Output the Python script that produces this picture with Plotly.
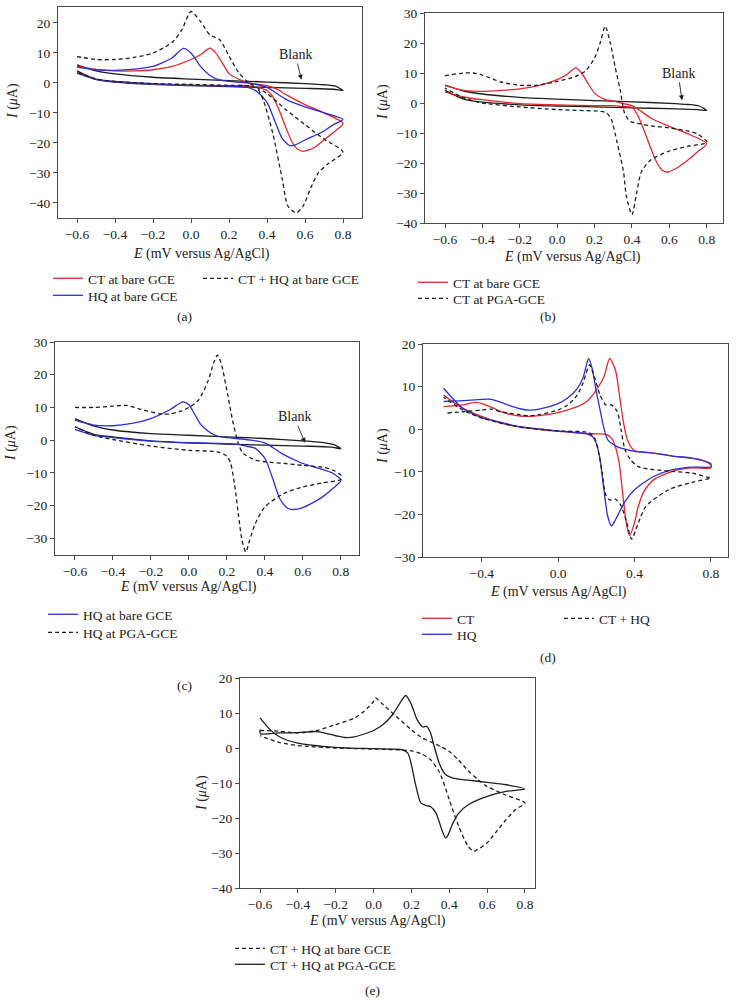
import plotly.graph_objects as go

# ---------------- DATA ----------------
# Panel (a)
a_ct_E = [-0.6, -0.5, -0.4, -0.3, -0.2, -0.1, 0.0, 0.05, 0.1, 0.13, 0.17, 0.2, 0.25, 0.3, 0.4, 0.45, 0.5, 0.6, 0.7, 0.8,
          0.75, 0.7, 0.65, 0.59, 0.56, 0.53, 0.5, 0.47, 0.43, 0.4, 0.35, 0.3, 0.2, 0.0, -0.2, -0.4, -0.5, -0.6]
a_ct_I = [5.5, 4.5, 4.0, 4.0, 4.4, 5.5, 7.8, 9.4, 11.6, 10.0, 6.1, 3.1, 1.3, 0.0, -0.9, -2.0, -3.9, -7.2, -10.0, -13.5,
          -16.5, -19.0, -21.5, -22.8, -22.0, -19.5, -15.0, -10.0, -4.5, -2.5, -1.5, -0.9, -0.9, -0.7, -0.3, 0.5, 1.3, 3.5]
a_hq_E = [-0.6, -0.5, -0.4, -0.3, -0.2, -0.1, -0.04, 0.0, 0.05, 0.1, 0.15, 0.2, 0.3, 0.4, 0.5, 0.6, 0.7, 0.8,
          0.75, 0.7, 0.6, 0.55, 0.52, 0.48, 0.44, 0.4, 0.35, 0.3, 0.2, 0.0, -0.2, -0.4, -0.5, -0.6]
a_hq_I = [5.3, 4.4, 4.2, 4.6, 5.5, 8.3, 11.5, 10.0, 5.5, 2.5, 1.0, 0.5, 0.0, -1.5, -5.5, -8.0, -10.0, -12.2,
          -13.9, -16.0, -19.0, -20.6, -20.9, -18.5, -12.5, -6.5, -3.0, -1.5, -1.1, -0.8, -0.3, 0.4, 1.2, 3.3]
a_mix_E = [-0.6, -0.5, -0.4, -0.3, -0.2, -0.1, -0.05, 0.0, 0.05, 0.1, 0.15, 0.2, 0.25, 0.3, 0.4, 0.5, 0.6, 0.7, 0.8,
           0.72, 0.67, 0.63, 0.59, 0.554, 0.51, 0.48, 0.43, 0.38, 0.35, 0.3, 0.2, 0.0, -0.2, -0.4, -0.5, -0.6]
a_mix_I = [8.8, 7.8, 7.8, 8.5, 10.0, 13.5, 17.5, 23.8, 20.5, 16.0, 14.5, 9.0, 3.5, 0.3, -3.5, -8.9, -13.9, -18.7, -23.0,
           -27.0, -30.0, -35.0, -41.0, -43.3, -41.0, -32.0, -16.7, -5.6, -2.0, -1.0, -0.8, -0.5, -0.2, 0.5, 1.3, 3.5]
a_blank_E = [-0.6, -0.5, -0.4, -0.2, 0.0, 0.2, 0.4, 0.6, 0.7, 0.76, 0.8,
             0.75, 0.6, 0.4, 0.2, 0.0, -0.2, -0.4, -0.5, -0.6]
a_blank_I = [6.0, 4.0, 3.0, 1.9, 1.3, 0.8, 0.3, -0.2, -0.6, -1.1, -2.5,
             -2.1, -1.8, -1.5, -1.2, -0.9, -0.5, 0.3, 1.2, 4.0]

# Panel (b)
b_ct_E = [-0.6, -0.5, -0.4, -0.3, -0.2, -0.1, 0.0, 0.05, 0.1, 0.13, 0.17, 0.2, 0.25, 0.3, 0.4, 0.45, 0.5, 0.6, 0.7, 0.8,
          0.75, 0.7, 0.63, 0.59, 0.56, 0.53, 0.5, 0.47, 0.43, 0.4, 0.35, 0.3, 0.2, 0.0, -0.2, -0.4, -0.5, -0.6]
b_ct_I = [5.8, 4.2, 3.9, 4.2, 4.7, 5.8, 7.8, 9.4, 11.7, 10.0, 6.0, 3.3, 1.3, 0.6, -0.9, -2.8, -5.0, -7.8, -10.3, -13.6,
          -16.3, -19.0, -22.0, -23.0, -22.3, -19.5, -15.0, -10.0, -4.0, -1.5, -1.2, -0.9, -0.9, -0.6, -0.2, 1.1, 2.0, 3.6]
b_pga_E = [-0.6, -0.5, -0.45, -0.4, -0.3, -0.2, -0.1, 0.0, 0.1, 0.15, 0.2, 0.23, 0.257, 0.284, 0.31, 0.337, 0.36, 0.39, 0.45, 0.5, 0.6, 0.7, 0.75, 0.8,
           0.8, 0.7, 0.6, 0.5, 0.45, 0.425, 0.4, 0.37, 0.355, 0.32, 0.29, 0.265, 0.23, 0.0, -0.2, -0.4, -0.5, -0.6]
b_pga_I = [9.1, 10.0, 10.0, 9.3, 7.0, 5.9, 6.0, 7.2, 8.9, 10.6, 15.0, 20.0, 25.6, 20.0, 12.0, 4.4, -3.3, -6.1, -7.0, -7.6, -8.3, -9.4, -10.3, -12.8,
           -13.3, -14.4, -16.0, -19.0, -23.0, -30.0, -37.2, -31.0, -23.0, -13.0, -5.5, -3.3, -2.8, -2.2, -1.3, 0.0, 1.7, 5.0]
b_blank_E = [-0.6, -0.5, -0.4, -0.2, 0.0, 0.2, 0.4, 0.6, 0.7, 0.76, 0.8,
             0.75, 0.6, 0.4, 0.2, 0.0, -0.2, -0.4, -0.5, -0.6]
b_blank_I = [6.0, 4.0, 3.0, 1.9, 1.3, 0.8, 0.4, -0.1, -0.5, -1.0, -2.5,
             -2.2, -1.9, -1.6, -1.3, -1.0, -0.6, 0.3, 1.3, 4.2]

# Panel (c)
c_hq_E = [-0.6, -0.5, -0.4, -0.3, -0.2, -0.1, -0.05, -0.03, 0.0, 0.03, 0.06, 0.1, 0.15, 0.2, 0.3, 0.4, 0.49, 0.59, 0.69, 0.76, 0.8,
          0.8, 0.7, 0.6, 0.55, 0.52, 0.48, 0.44, 0.4, 0.35, 0.3, 0.25, 0.0, -0.2, -0.4, -0.5, -0.6]
c_hq_I = [6.1, 4.6, 4.4, 5.1, 6.6, 9.3, 11.2, 11.7, 10.8, 8.0, 5.0, 2.8, 1.2, 0.8, 0.2, -0.8, -4.1, -6.9, -8.7, -10.2, -12.0,
          -12.5, -17.5, -20.6, -21.2, -20.8, -18.0, -11.5, -5.5, -2.5, -1.8, -1.2, -0.8, -0.3, 0.8, 1.5, 3.3]
c_pga_E = [-0.6, -0.5, -0.4, -0.33, -0.25, -0.15, -0.1, -0.05, 0.0, 0.05, 0.1, 0.13, 0.15, 0.17, 0.2, 0.23, 0.26, 0.28, 0.3, 0.35, 0.4, 0.5, 0.6, 0.7, 0.76, 0.8,
           0.8, 0.7, 0.6, 0.5, 0.4, 0.35, 0.32, 0.3, 0.28, 0.26, 0.24, 0.22, 0.2, 0.15, 0.0, -0.2, -0.4, -0.5, -0.6]
c_pga_I = [10.0, 10.0, 10.4, 10.6, 9.4, 8.0, 8.0, 8.7, 10.0, 12.2, 17.9, 23.5, 26.0, 23.5, 15.3, 6.1, -1.0, -3.6, -4.6, -6.1, -6.6, -7.1, -7.7, -8.2, -9.2, -10.7,
           -12.0, -13.1, -14.3, -16.3, -20.4, -25.5, -30.6, -34.2, -30.6, -22.4, -13.3, -7.1, -4.9, -3.6, -3.1, -1.8, 0.2, 1.5, 4.1]
c_blank_E = [-0.6, -0.5, -0.4, -0.2, 0.0, 0.2, 0.4, 0.6, 0.7, 0.77, 0.8,
             0.75, 0.6, 0.4, 0.2, 0.0, -0.2, -0.4, -0.5, -0.6]
c_blank_I = [6.6, 4.3, 3.1, 2.0, 1.5, 1.0, 0.5, -0.2, -0.7, -1.5, -2.6,
             -2.1, -1.8, -1.5, -1.2, -0.8, -0.2, 1.0, 1.8, 4.1]

# Panel (d)
d_ct_E = [-0.6, -0.5, -0.43, -0.35, -0.3, -0.2, -0.15, -0.1, 0.0, 0.1, 0.15, 0.2, 0.24, 0.27, 0.3, 0.32, 0.34, 0.36, 0.38, 0.4, 0.5, 0.6, 0.7, 0.75, 0.8,
          0.8, 0.7, 0.6, 0.5, 0.45, 0.42, 0.4, 0.375, 0.36, 0.34, 0.32, 0.3, 0.28, 0.25, 0.2, 0.0, -0.2, -0.3, -0.4, -0.5, -0.6]
d_ct_I = [5.3, 5.7, 6.3, 5.2, 4.1, 3.1, 3.0, 3.2, 3.9, 5.3, 6.5, 9.2, 12.3, 16.6, 13.9, 8.4, 2.2, -2.1, -4.1, -5.0, -5.6, -6.3, -6.8, -7.2, -8.4,
          -9.1, -9.1, -9.9, -11.9, -14.6, -18.1, -22.0, -25.0, -22.8, -15.8, -8.0, -4.1, -2.1, -1.2, -1.1, -0.5, 0.5, 1.4, 3.0, 4.9, 8.0]
d_hq_E = [-0.6, -0.5, -0.4, -0.35, -0.3, -0.25, -0.2, -0.15, -0.1, 0.0, 0.05, 0.1, 0.13, 0.16, 0.18, 0.2, 0.22, 0.24, 0.26, 0.3, 0.35, 0.4, 0.5, 0.6, 0.7, 0.8,
          0.8, 0.7, 0.6, 0.5, 0.4, 0.35, 0.3, 0.28, 0.26, 0.24, 0.22, 0.2, 0.18, 0.15, 0.0, -0.2, -0.3, -0.4, -0.5, -0.6]
d_hq_I = [6.5, 6.7, 7.0, 7.0, 6.3, 5.5, 4.8, 4.5, 4.7, 6.0, 7.3, 9.5, 12.0, 16.6, 13.9, 8.8, 4.5, 0.2, -2.5, -3.9, -4.7, -5.2, -5.6, -6.3, -6.8, -8.1,
          -8.8, -8.9, -9.5, -11.1, -14.2, -17.0, -21.3, -22.7, -20.5, -14.2, -7.2, -3.3, -1.7, -1.1, -0.4, 0.6, 1.6, 2.7, 4.9, 9.6]
d_mix_E = [-0.58, -0.5, -0.4, -0.35, -0.3, -0.2, -0.15, -0.1, 0.0, 0.05, 0.1, 0.13, 0.165, 0.19, 0.22, 0.25, 0.28, 0.31, 0.33, 0.35, 0.38, 0.42, 0.5, 0.6, 0.7, 0.8,
           0.8, 0.7, 0.58, 0.46, 0.42, 0.385, 0.36, 0.33, 0.3, 0.27, 0.25, 0.23, 0.21, 0.19, 0.16, 0.0, -0.2, -0.4, -0.5, -0.6]
d_mix_I = [3.8, 4.1, 4.5, 4.7, 4.1, 3.4, 3.1, 3.4, 4.5, 5.7, 8.0, 10.8, 15.1, 12.3, 8.0, 5.7, 5.7, 4.1, -0.2, -4.8, -7.2, -8.8, -9.5, -9.9, -10.3, -11.5,
           -11.5, -12.5, -14.2, -18.1, -22.0, -25.8, -22.0, -18.0, -16.4, -16.6, -15.5, -10.0, -5.0, -2.0, -0.8, -0.4, 0.5, 2.6, 4.5, 7.5]

# Panel (e)
e_bare_E = [-0.6, -0.5, -0.4, -0.3, -0.2, -0.1, -0.05, 0.0, 0.01, 0.05, 0.12, 0.2, 0.25, 0.3, 0.35, 0.4, 0.45, 0.5, 0.55, 0.6, 0.7, 0.8,
            0.75, 0.7, 0.65, 0.6, 0.55, 0.53, 0.5, 0.45, 0.4, 0.35, 0.3, 0.25, 0.2, 0.0, -0.2, -0.4, -0.5, -0.6]
e_bare_I = [5.0, 4.8, 4.3, 5.0, 6.7, 8.6, 10.5, 13.3, 14.3, 12.4, 9.0, 5.2, 3.1, 1.8, 0.5, -1.0, -3.5, -6.5, -9.0, -11.0, -13.5, -15.7,
            -17.6, -20.5, -23.8, -27.1, -29.0, -29.5, -28.1, -22.4, -14.8, -7.1, -3.3, -1.6, -0.8, -0.3, 0.0, 0.7, 1.6, 3.5]
e_pga_E = [-0.6, -0.598, -0.5, -0.4, -0.3, -0.2, -0.15, -0.1, 0.0, 0.05, 0.1, 0.14, 0.17, 0.2, 0.23, 0.26, 0.28, 0.3, 0.32, 0.35, 0.38, 0.42, 0.5, 0.6, 0.7, 0.8,
           0.7, 0.6, 0.5, 0.45, 0.42, 0.39, 0.38, 0.36, 0.33, 0.3, 0.28, 0.25, 0.22, 0.2, 0.18, 0.15, 0.0, -0.2, -0.4, -0.5, -0.55, -0.6]
e_pga_I = [5.3, 4.1, 4.3, 4.4, 4.7, 3.5, 3.0, 3.2, 5.0, 6.7, 9.5, 12.9, 15.0, 12.4, 8.1, 6.0, 6.2, 4.5, 0.5, -4.8, -7.6, -8.6, -9.2, -9.8, -10.5, -11.7,
           -12.4, -13.8, -16.2, -18.6, -21.4, -25.2, -25.7, -23.3, -18.6, -16.7, -16.5, -15.7, -10.0, -4.8, -1.4, -0.5, -0.2, 0.2, 1.4, 3.3, 5.4, 8.6]

x_title = "<i>E</i> (mV versus Ag/AgCl)"
y_title = "<i>I</i> (<i>μ</i>A)"
captions = ["(a)", "(b)", "(c)", "(d)", "(e)"]

# ---------------- STYLE / LAYOUT ----------------
W, H = 737, 1003
FONT = "Liberation Serif, Times New Roman, serif"
RED = "#e3262b"
BLUE = "#2c2fd2"
BLK = "#1e1e1e"
TXT = "#222222"
LW = 1.3
DASH = "4px,3px"
TICK_FS = 13.5
TITLE_FS = 14


def px_x(p):
    return p / W


def px_y(p):
    return 1 - p / H


# panel geometry in pixels (left, right, top, bottom) and data ranges
panels = [
    dict(ax="", box=(58, 362, 7, 218), xr=(-0.70, 0.90), yr=(-45, 25.3), dx=0.2, dy=10),
    dict(ax="2", box=(425, 723, 13, 223), xr=(-0.707, 0.887), yr=(-40, 30), dx=0.2, dy=10),
    dict(ax="3", box=(55, 359, 342, 555), xr=(-0.705, 0.896), yr=(-35.1, 30), dx=0.2, dy=10),
    dict(ax="4", box=(423, 728, 344, 557), xr=(-0.708, 0.89), yr=(-30, 20), dx=0.4, dy=10),
    dict(ax="5", box=(240, 535, 678, 888), xr=(-0.706, 0.853), yr=(-40, 20), dx=0.2, dy=10),
]

fig = go.Figure()

axis_common = dict(
    showline=True, linecolor="#4a4a4a", linewidth=1, mirror=True,
    ticks="outside", ticklen=4, tickwidth=1, tickcolor="#4a4a4a",
    showgrid=False, zeroline=False, automargin=False,
    tickfont=dict(family=FONT, size=TICK_FS, color=TXT),
)

layout_axes = {}
for p in panels:
    l, r, t, b = p["box"]
    xa = "xaxis" + p["ax"]
    ya = "yaxis" + p["ax"]
    layout_axes[xa] = dict(axis_common, domain=[px_x(l), px_x(r)], range=list(p["xr"]),
                           anchor="y" + p["ax"], dtick=p["dx"], tick0=0, tickformat=".1f")
    layout_axes[ya] = dict(axis_common, domain=[px_y(b), px_y(t)], range=list(p["yr"]),
                           anchor="x" + p["ax"], dtick=p["dy"], tick0=0, tickformat="d")
fig.update_layout(**layout_axes)

# legend slots: (legend id, text-left px, row-centre px)
legend_slots = {
    "legend": (88, 278), "legend2": (88, 295), "legend3": (238, 278),
    "legend4": (453, 282), "legend5": (453, 298),
    "legend6": (83, 614), "legend7": (83, 632),
    "legend8": (457, 618), "legend9": (457, 634), "legend10": (599, 618),
    "legend11": (270, 948), "legend12": (270, 964),
}
for lid, (tx, ty) in legend_slots.items():
    fig.update_layout(**{lid: dict(
        x=px_x(tx - 40), y=px_y(ty - 15), xanchor="left", yanchor="top",
        bgcolor="rgba(0,0,0,0)", borderwidth=0,
        font=dict(family=FONT, size=13.5, color=TXT), itemwidth=30,
    )})


def curve(E, I, ax, color, dash, name=None, legend=None):
    fig.add_trace(go.Scatter(
        x=E, y=I, mode="lines",
        line=dict(color=color, width=LW, dash=dash, shape="spline", smoothing=0.7),
        xaxis="x" + ax, yaxis="y" + ax,
        name=name if name else "Blank",
        showlegend=legend is not None,
        legend=legend if legend else "legend",
        hoverinfo="skip",
    ))


# (a)
curve(a_blank_E, a_blank_I, "", BLK, "solid")
curve(a_ct_E, a_ct_I, "", RED, "solid", "CT at bare GCE", "legend")
curve(a_hq_E, a_hq_I, "", BLUE, "solid", "HQ at bare GCE", "legend2")
curve(a_mix_E, a_mix_I, "", BLK, DASH, "CT + HQ at bare GCE", "legend3")
# (b)
curve(b_blank_E, b_blank_I, "2", BLK, "solid")
curve(b_ct_E, b_ct_I, "2", RED, "solid", "CT at bare GCE", "legend4")
curve(b_pga_E, b_pga_I, "2", BLK, DASH, "CT at PGA-GCE", "legend5")
# (c)
curve(c_blank_E, c_blank_I, "3", BLK, "solid")
curve(c_hq_E, c_hq_I, "3", BLUE, "solid", "HQ at bare GCE", "legend6")
curve(c_pga_E, c_pga_I, "3", BLK, DASH, "HQ at PGA-GCE", "legend7")
# (d)
curve(d_ct_E, d_ct_I, "4", RED, "solid", "CT", "legend8")
curve(d_hq_E, d_hq_I, "4", BLUE, "solid", "HQ", "legend9")
curve(d_mix_E, d_mix_I, "4", BLK, DASH, "CT + HQ", "legend10")
# (e)
curve(e_bare_E, e_bare_I, "5", BLK, DASH, "CT + HQ at bare GCE", "legend11")
curve(e_pga_E, e_pga_I, "5", BLK, "solid", "CT + HQ at PGA-GCE", "legend12")

annotations = []
# axis titles
x_title_pos = [(202, 254), (572, 257), (188, 587), (558, 592), (377, 921)]
y_title_pos = [(13, 101), (383, 102), (11, 443), (383, 446), (202, 793)]
for (xp, yp) in x_title_pos:
    annotations.append(dict(text=x_title, x=px_x(xp), y=px_y(yp), xref="paper", yref="paper",
                            showarrow=False, font=dict(family=FONT, size=TITLE_FS, color=TXT),
                            xanchor="center", yanchor="middle"))
for (xp, yp) in y_title_pos:
    annotations.append(dict(text=y_title, x=px_x(xp), y=px_y(yp), xref="paper", yref="paper",
                            showarrow=False, textangle=-90, font=dict(family=FONT, size=TITLE_FS, color=TXT),
                            xanchor="center", yanchor="middle"))
# captions
cap_pos = [(184, 316), (548, 316), (184, 685), (548, 657), (372, 990)]
for c, (xp, yp) in zip(captions, cap_pos):
    annotations.append(dict(text=c, x=px_x(xp), y=px_y(yp), xref="paper", yref="paper",
                            showarrow=False, font=dict(family=FONT, size=13.5, color=TXT),
                            xanchor="center", yanchor="middle"))
# "Blank" arrows
blank_arrows = [("", 0.581, 1.1, -6, -25), ("2", 0.668, 0.9, -4, -27), ("3", 0.612, -0.8, -11, -26)]
for ax, hx, hy, dxp, dyp in blank_arrows:
    annotations.append(dict(text="Blank", x=hx, y=hy, xref="x" + ax, yref="y" + ax,
                            showarrow=True, ax=dxp, ay=dyp, arrowhead=2, arrowsize=1.1,
                            arrowwidth=0.9, arrowcolor=BLK, standoff=0,
                            font=dict(family=FONT, size=TITLE_FS, color=TXT)))

fig.update_layout(
    width=W, height=H, margin=dict(l=0, r=0, t=0, b=0),
    paper_bgcolor="white", plot_bgcolor="white",
    annotations=annotations,
    font=dict(family=FONT, size=13, color=TXT),
)

fig.write_html(
    "out.html",
    config={"displayModeBar": False},
    post_script="document.body.style.margin='0px';document.body.style.padding='0px';",
)
